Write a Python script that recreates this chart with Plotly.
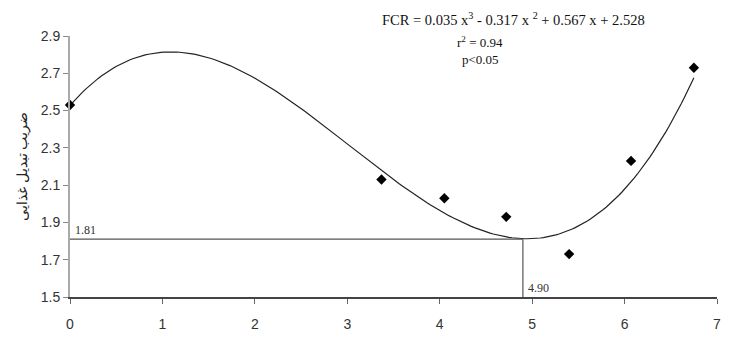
import numpy as np
import plotly.graph_objects as go

# Observed data points (level vs FCR)
x_pts = [0.0, 3.37, 4.05, 4.72, 5.40, 6.07, 6.75]
y_pts = [2.53, 2.13, 2.03, 1.93, 1.73, 2.23, 2.73]

# Fitted cubic trendline coefficients (shown on chart)
coef = [0.035, -0.317, 0.567, 2.528]
x_opt = 4.90
y_opt = 1.81

x_ticks = [0, 1, 2, 3, 4, 5, 6, 7]
y_ticks = [1.5, 1.7, 1.9, 2.1, 2.3, 2.5, 2.7, 2.9]

xc = np.linspace(0, 6.75, 200)
yc = np.polyval(coef, xc)

fig = go.Figure()
fig.add_trace(go.Scatter(x=xc, y=yc, mode="lines",
                         line=dict(color="#222", width=1.2), hoverinfo="skip"))
fig.add_trace(go.Scatter(x=[0, x_opt], y=[y_opt, y_opt], mode="lines",
                         line=dict(color="#555", width=1.2), hoverinfo="skip"))
fig.add_trace(go.Scatter(x=[x_opt, x_opt], y=[1.5, y_opt], mode="lines",
                         line=dict(color="#555", width=1.2), hoverinfo="skip"))
fig.add_trace(go.Scatter(x=x_pts, y=y_pts, mode="markers", cliponaxis=False,
                         marker=dict(symbol="diamond", size=8, color="black")))

serif = "Liberation Serif, Times New Roman, serif"
fig.add_annotation(x=4.8, y=2.9, xref="x", yref="y", yshift=17,
                   text="FCR = 0.035 x<sup>3</sup> - 0.317 x <sup>2</sup> + 0.567 x + 2.528",
                   showarrow=False, font=dict(family=serif, size=14.5, color="#111"))
fig.add_annotation(x=4.44, y=2.8, xref="x", yref="y", yshift=13,
                   text="r<sup>2</sup> = 0.94", showarrow=False,
                   font=dict(family=serif, size=13, color="#111"))
fig.add_annotation(x=4.44, y=2.7, xref="x", yref="y", yshift=14,
                   text="p<0.05", showarrow=False,
                   font=dict(family=serif, size=13, color="#111"))
fig.add_annotation(x=0.03, y=y_opt, xref="x", yref="y", xanchor="left", yanchor="bottom",
                   text=f"{y_opt:.2f}", showarrow=False,
                   font=dict(family=serif, size=12, color="#333"))
fig.add_annotation(x=x_opt + 0.03, y=1.5, xref="x", yref="y", xanchor="left", yanchor="bottom",
                   text=f"{x_opt:.2f}", showarrow=False,
                   font=dict(family=serif, size=12, color="#333"))

fig.update_layout(
    width=731, height=338,
    margin=dict(l=62, r=22, t=28, b=49),
    plot_bgcolor="white", paper_bgcolor="white",
    showlegend=False,
    font=dict(family="Liberation Sans, Arial, sans-serif", size=14, color="#333"),
)
fig.update_xaxes(range=[0, 7], tickvals=x_ticks, showgrid=False, zeroline=False,
                 showline=True, linecolor="#444", linewidth=1.5,
                 ticks="outside", ticklen=5, tickcolor="#666",
                 ticklabelstandoff=8)
fig.update_yaxes(range=[1.5, 2.9], tickvals=y_ticks, tickformat=".1f",
                 showgrid=False, zeroline=False,
                 showline=True, linecolor="#aaa", linewidth=2,
                 ticks="outside", ticklen=5, tickcolor="#888",
                 title=dict(text="ضریب تبدیل غذایی", standoff=10,
                            font=dict(family="Noto Sans", size=14, color="#222")))

fig.write_html("out.html")
